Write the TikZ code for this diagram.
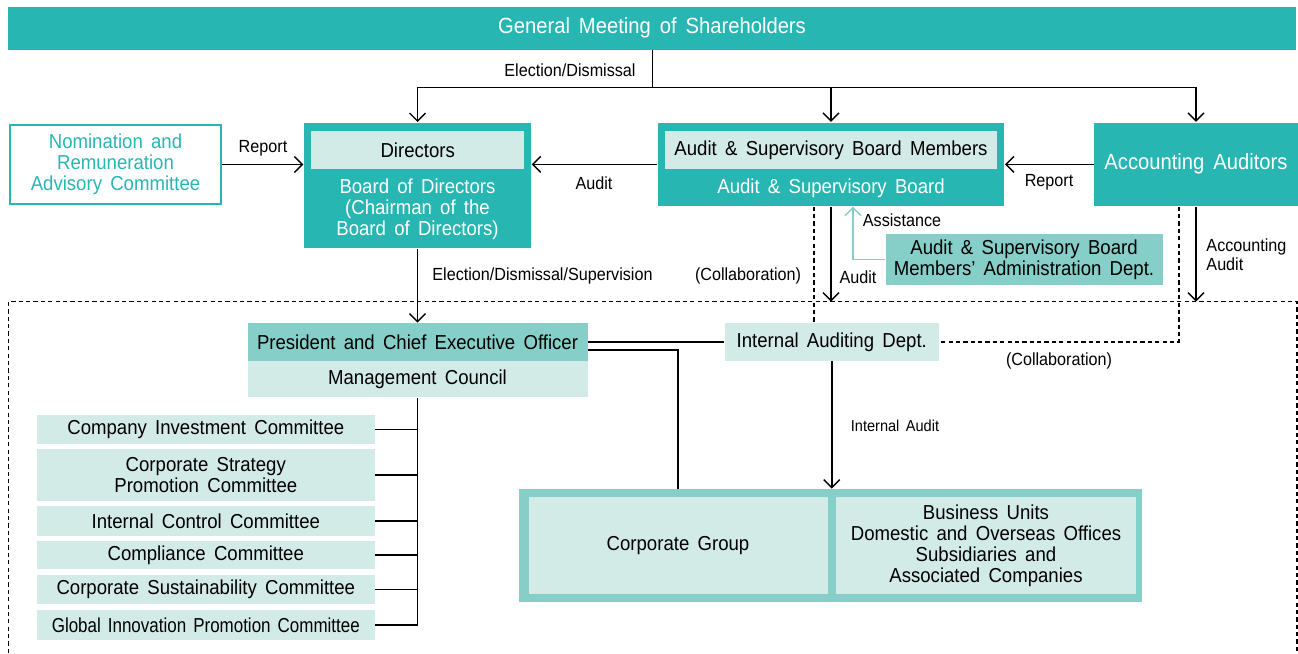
\documentclass[tikz,border=0pt]{standalone}
\usepackage{fontspec}
\setmainfont{Liberation Sans}[FakeStretch=0.92,WordSpace=1.6]
\newfontfamily\narrowfont{Liberation Sans}[FakeStretch=0.84,WordSpace=1.5]
\usepackage{tikz}
\usetikzlibrary{arrows.meta,positioning,calc}
\definecolor{tealdark}{HTML}{27B6B2}
\definecolor{tealmid}{HTML}{86CEC8}
\definecolor{teallight}{HTML}{D3EBE7}
\tikzset{box/.style={rectangle, inner sep=0pt, align=center, font=\fontsize{11.5}{12}\selectfont, execute at begin node=\setlength{\baselineskip}{12pt}}}
\tikzset{darkbox/.style={box, fill=tealdark, text=white}}
\tikzset{midbox/.style={box, fill=tealmid}}
\tikzset{lightbox/.style={box, fill=teallight}}
\tikzset{lbl/.style={font=\fontsize{10}{12}\selectfont, inner sep=1pt, align=left}}
\tikzset{dashline/.style={dashed, dash pattern=on 2.4pt off 1.8pt, line width=0.6pt}}
\tikzset{boxsize/.style 2 args={minimum width=#1*0.02cm, minimum height=#2*0.02cm}}

\begin{document}
\begin{tikzpicture}[x=0.02cm,y=-0.02cm,line width=0.8pt,>={Straight Barb[length=1.6mm,width=3.2mm]}]
\useasboundingbox (0,0) rectangle (1298,653);
% frame of the executive side
\draw[dashline] (8.4,653) -- (8.4,301.7) -- (1297,301.7) -- (1297,653);
\coordinate (ftop) at (0,301.7);
% top row
\node[darkbox, boxsize={1288}{43}, font=\fontsize{12.5}{14}\selectfont] (gms) at (652,28) {General Meeting of Shareholders};
\node[box, draw=tealdark, line width=1.2pt, text=tealdark, boxsize={211}{79}] (nom) at (115.5,164.5) {Nomination and\\Remuneration\\Advisory Committee};
\node[darkbox, boxsize={227}{125.6}] (dir) at (417.5,185.5) {};
\node[lightbox, boxsize={212.6}{38.3}] (dirs) at (417.7,150) {Directors};
\node[box, text=white] (bod) at (417.5,209.5) {Board of Directors\\(Chairman of the\\Board of Directors)};
\node[darkbox, boxsize={346.5}{83.3}] (asb) at (831,164.3) {};
\node[lightbox, boxsize={332}{37.7}] (asbm) at (831,150) {Audit \& Supervisory Board Members};
\node[box, text=white] (asbt) at (831,188.5) {Audit \& Supervisory Board};
\node[darkbox, boxsize={203.5}{83.3}, font=\fontsize{12.5}{14}\selectfont] (acc) at (1196,164.3) {Accounting Auditors};
\node[midbox, boxsize={277}{51}] (adm) at (1024,259.5) {Audit \& Supervisory Board\\Members' Administration Dept.};
% executive side
\node[midbox, boxsize={340}{37.4}] (pceo) at (417.5,342) {President and Chief Executive Officer};
\node[lightbox, boxsize={340}{36.6}] (mc) at (417.5,379) {Management Council};
\node[lightbox, boxsize={213.7}{37.4}] (iad) at (831.8,342) {Internal Auditing Dept.};
\node[lightbox, boxsize={337.6}{28.7}] (cic) at (205.8,429.3) {Company Investment Committee};
\node[lightbox, boxsize={337.6}{51.4}] (csp) at (205.8,475) {Corporate Strategy\\Promotion Committee};
\node[lightbox, boxsize={337.6}{30}] (icc) at (205.8,521) {Internal Control Committee};
\node[lightbox, boxsize={337.6}{28.6}] (cc) at (205.8,555) {Compliance Committee};
\node[lightbox, boxsize={337.6}{29.3}] (csc) at (205.8,589.3) {Corporate Sustainability Committee};
\node[lightbox, boxsize={337.6}{30}, font=\narrowfont\fontsize{11.5}{12}\selectfont] (gic) at (205.8,625) {Global Innovation Promotion Committee};
\node[midbox, boxsize={622.7}{112.4}] (cgo) at (830.6,545.5) {};
\node[lightbox, boxsize={299}{96.7}] (cg) at (678,545.6) {Corporate Group};
\node[lightbox, boxsize={300}{96.7}] (bu) at (986,545.6) {Business Units\\Domestic and Overseas Offices\\Subsidiaries and\\Associated Companies};
% election from the general meeting
\coordinate (split) at (652.4,87.7);
\draw (gms.south -| split) -- (split);
\draw[->] (split) -| (dir.north);
\draw[->] (split) -| (asb.north);
\draw[->] (split) -| (acc.north);
\node[lbl] (l1) at (570,70) {Election/Dismissal};
% reports and audits
\draw[->] (nom.east) -- (nom.east -| dir.west);
\node[lbl] (l2) at (263,148) {Report};
\draw[->] (asb.west) -- (asb.west -| dir.east);
\node[lbl] (l3) at (594,183) {Audit};
\draw[->] (acc.west) -- (acc.west -| asb.east);
\node[lbl] (l4) at (1049,182) {Report};
\coordinate (c3) at (853,0);
\draw[->,tealmid] (adm.west) -| (c3 |- asb.south);
\node[lbl] (l5) at (902,220) {Assistance};
\draw[->] (dir.south) -- (pceo.north);
\node[lbl, anchor=west] (l6) at (430,276) {Election/Dismissal/Supervision};
\node[lbl] (l7) at (748,276) {(Collaboration)};
\coordinate (c1) at (814,0);
\draw[dashline] (c1 |- asb.south) -- (c1 |- iad.north);
\draw[->] (asb.south) -- (asb.south |- ftop);
\node[lbl] (l8) at (858,277) {Audit};
\draw[->] (acc.south) -- (acc.south |- ftop);
\node[lbl, anchor=west, execute at begin node=\setlength{\baselineskip}{11pt}] (l9) at (1204,255) {Accounting\\Audit};
\coordinate (c2) at (1179,0);
\draw[dashline] (c2 |- acc.south) |- (iad.east);
\node[lbl] (l10) at (1059,361) {(Collaboration)};
% executive lines
\draw (pceo.east) -- (iad.west);
\coordinate (c4) at (678,350);
\draw (c4 -| pceo.east) -- (c4) -- (c4 |- cgo.north);
\draw[->] (iad.south) -- (iad.south |- cgo.north);
\node[lbl, font=\fontsize{9}{11}\selectfont] (l11) at (895,426) {Internal Audit};
\draw (mc.south) -- (mc.south |- gic.east);
\foreach \c in {cic,csp,icc,cc,csc,gic}
  \draw (\c.east) -- (\c.east -| mc.south);
\end{tikzpicture}
\end{document}
